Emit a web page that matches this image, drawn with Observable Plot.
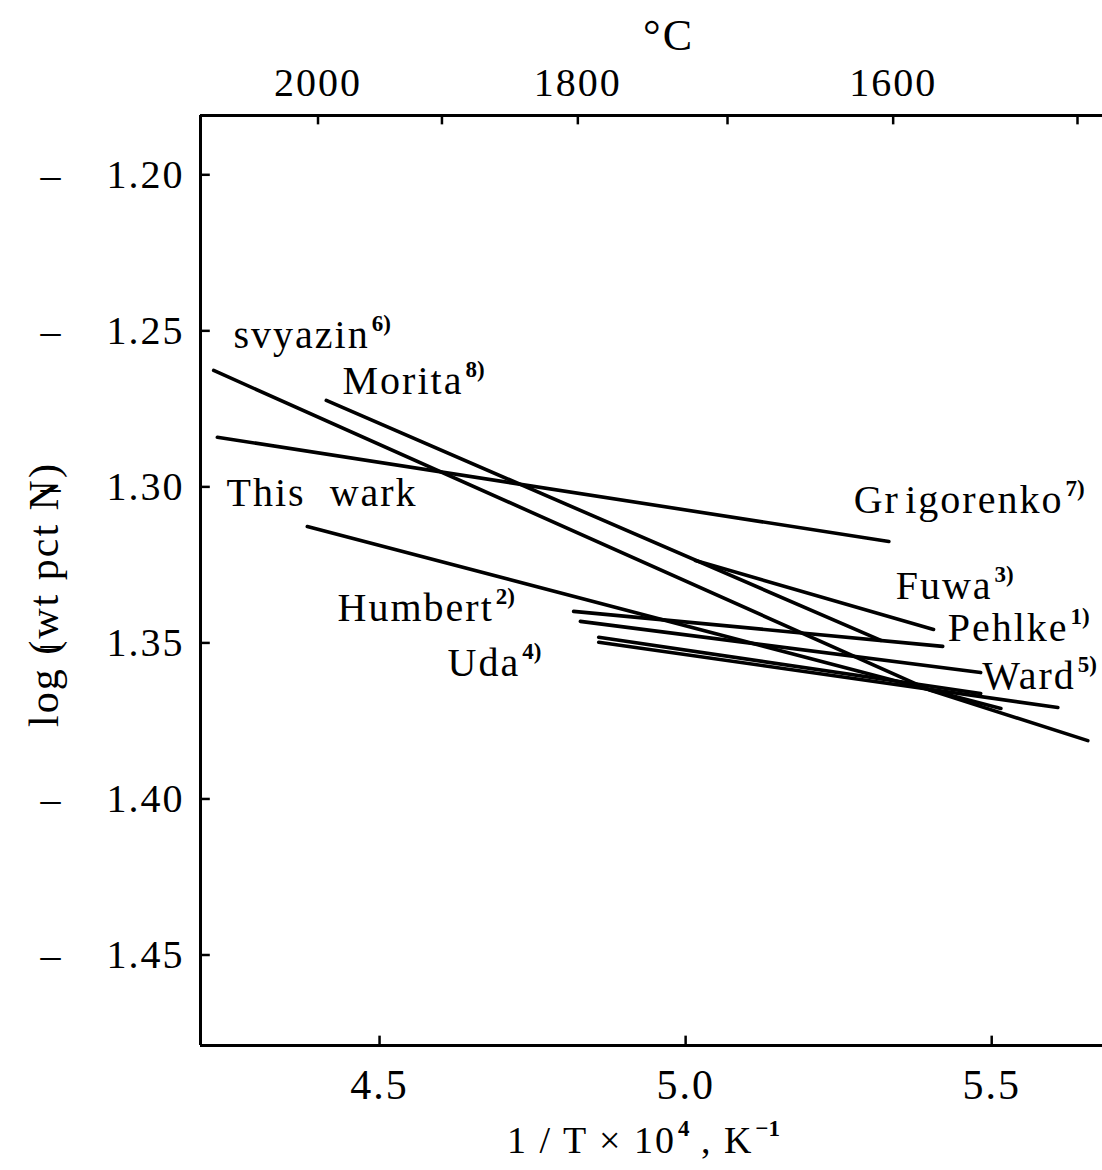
<!DOCTYPE html>
<html><head><meta charset="utf-8">
<script src="https://cdn.jsdelivr.net/npm/d3@7"></script>
<script src="https://cdn.jsdelivr.net/npm/@observablehq/plot@0.6"></script>
<style>body{margin:0;background:#fff}</style>
</head><body><div id="chart"></div>
<script>
// ---- data (x = 1/T x 10^4, K^-1 ; y = log wt pct N) ----
const seriesNames = ["svyazin", "Morita", "Grigorenko", "This work", "Fuwa", "Pehlke", "Humbert", "Uda", "Ward"];
const svyazinPts    = [[4.229, -1.2627], [5.400, -1.3652], [5.657, -1.3813]];
const moritaPts     = [[4.413, -1.2723], [5.319, -1.3492]];
const grigorenkoPts = [[4.235, -1.2841], [5.332, -1.3175]];
const thisWorkPts   = [[4.382, -1.3127], [5.515, -1.3710]];
const fuwaPts       = [[5.016, -1.3236], [5.405, -1.3457]];
const pehlkePts     = [[4.817, -1.3399], [5.420, -1.3511]];
const humbertPts    = [[4.828, -1.3431], [5.482, -1.3595]];
const udaPts        = [[4.858, -1.3482], [5.482, -1.3662]];
const wardPts       = [[4.858, -1.3498], [5.608, -1.3707]];
const seriesPts = [svyazinPts, moritaPts, grigorenkoPts, thisWorkPts, fuwaPts, pehlkePts, humbertPts, udaPts, wardPts];

// labels (text, reference number, anchor in data units)
const labelText = ["svyazin", "Morita", "This\u00a0\u00a0wark", "Gr\u200aigorenko", "Fuwa", "Pehlke", "Ward", "Humbert", "Uda"];
const labelRef  = ["6)", "8)", "", "7)", "3)", "1)", "5)", "2)", "4)"];
const labelX    = [4.2614, 4.4395, 4.250, 5.2745, 5.3431, 5.4281, 5.4845, 4.4314, 4.6111];
const labelY    = [-1.2514, -1.2662, -1.3021, -1.3043, -1.3319, -1.3453, -1.3607, -1.3389, -1.3566];

// axes ticks
const yTicks = [-1.20, -1.25, -1.30, -1.35, -1.40, -1.45];
const xTicks = [4.5, 5.0, 5.5];
const celsiusTicks = [2000, 1900, 1800, 1700, 1600, 1500];
const celsiusLabels = [2000, 1800, 1600];
const xDomain = [4.2075, 5.681];
const yDomain = [-1.479, -1.181];

// ---- build tables ----
const lineRows = seriesNames.flatMap((name, i) => seriesPts[i].map(([x, y]) => ({name, x, y})));
const labelRows = labelText.map((t, i) => ({text: labelRef[i] ? `${t}^{${labelRef[i]}}` : t, x: labelX[i], y: labelY[i]}));
const toX = c => 1e4 / (c + 273);

const FONT = "Liberation Serif";
const chart = Plot.plot({
  width: 1102, height: 1170,
  marginLeft: 200, marginRight: 0, marginTop: 115, marginBottom: 125,
  style: {fontFamily: FONT, background: "#fff", color: "#000"},
  x: {domain: xDomain, label: null},
  y: {domain: yDomain, label: null},
  marks: [
    // frame
    Plot.ruleX([xDomain[0]], {stroke: "#000", strokeWidth: 3}),
    Plot.ruleY(yDomain, {stroke: "#000", strokeWidth: 3}),
    // inward ticks
    Plot.ruleY(yTicks, {y: d => d, x1: xDomain[0], x2: xDomain[0] + 0.016, stroke: "#000", strokeWidth: 2.5}),
    Plot.ruleX(xTicks, {x: d => d, y1: yDomain[0], y2: yDomain[0] + 0.003, stroke: "#000", strokeWidth: 2.5}),
    Plot.ruleX(celsiusTicks.map(toX), {x: d => d, y1: yDomain[1], y2: yDomain[1] - 0.003, stroke: "#000", strokeWidth: 2.5}),
    // axes text
    Plot.axisY(yTicks, {tickSize: 0, tickPadding: 16, fontSize: 40, tickFormat: d => "\u2013\u2002\u2002" + (-d).toFixed(2)}),
    Plot.axisX(xTicks, {anchor: "bottom", tickSize: 0, tickPadding: 24, fontSize: 42, tickFormat: d => d.toFixed(1)}),
    Plot.axisX(celsiusLabels.map(toX), {anchor: "top", tickSize: 0, tickPadding: 20, fontSize: 40,
      tickFormat: d => String(Math.round(1e4 / d - 273))}),
    // data lines
    Plot.line(lineRows, {x: "x", y: "y", z: "name", stroke: "#000", strokeWidth: 3.6, strokeLinecap: "round"}),
    // labels
    Plot.text(labelRows, {x: "x", y: "y", text: "text", textAnchor: "start", lineAnchor: "middle", fontSize: 40}),
    // titles
    Plot.text(["°C"], {frameAnchor: "top", textAnchor: "middle", dx: 17, dy: -80, fontSize: 44, lineAnchor: "middle"}),
    Plot.text(["1 / T × 10^{4} , K^{−1}"], {frameAnchor: "bottom", textAnchor: "middle", dx: -8, dy: 95, fontSize: 38, lineAnchor: "middle"}),
    Plot.text(["log (wt pct N)"], {frameAnchor: "left", textAnchor: "middle", dx: -156, dy: 14, rotate: -90, fontSize: 42, lineAnchor: "middle"})
  ]
});

// superscripts: "abc^{xy}" -> tspans
chart.querySelectorAll("text").forEach(t => {
  const s = t.textContent;
  if (!s.includes("^{")) return;
  const fs = parseFloat(t.getAttribute("font-size")) || parseFloat(getComputedStyle(t).fontSize) || 40;
  const shift = Math.round(fs * 0.42);
  const parts = s.split(/\^\{(.*?)\}/);
  while (t.firstChild) t.removeChild(t.firstChild);
  let raised = false;
  parts.forEach((p, i) => {
    if (!p) return;
    const ts = document.createElementNS("http://www.w3.org/2000/svg", "tspan");
    if (i % 2 === 1) {
      ts.setAttribute("dy", -shift);
      ts.setAttribute("dx", 2);
      ts.setAttribute("font-size", Math.round(fs * 0.58));
      ts.setAttribute("font-weight", "bold");
      ts.style.letterSpacing = "0px";
      raised = true;
    } else if (raised) {
      ts.setAttribute("dy", shift);
      raised = false;
    }
    ts.textContent = p;
    t.appendChild(ts);
  });
});
chart.querySelectorAll("text").forEach(t => t.style.letterSpacing = "2px");
document.getElementById("chart").appendChild(chart);
</script>
</body></html>
